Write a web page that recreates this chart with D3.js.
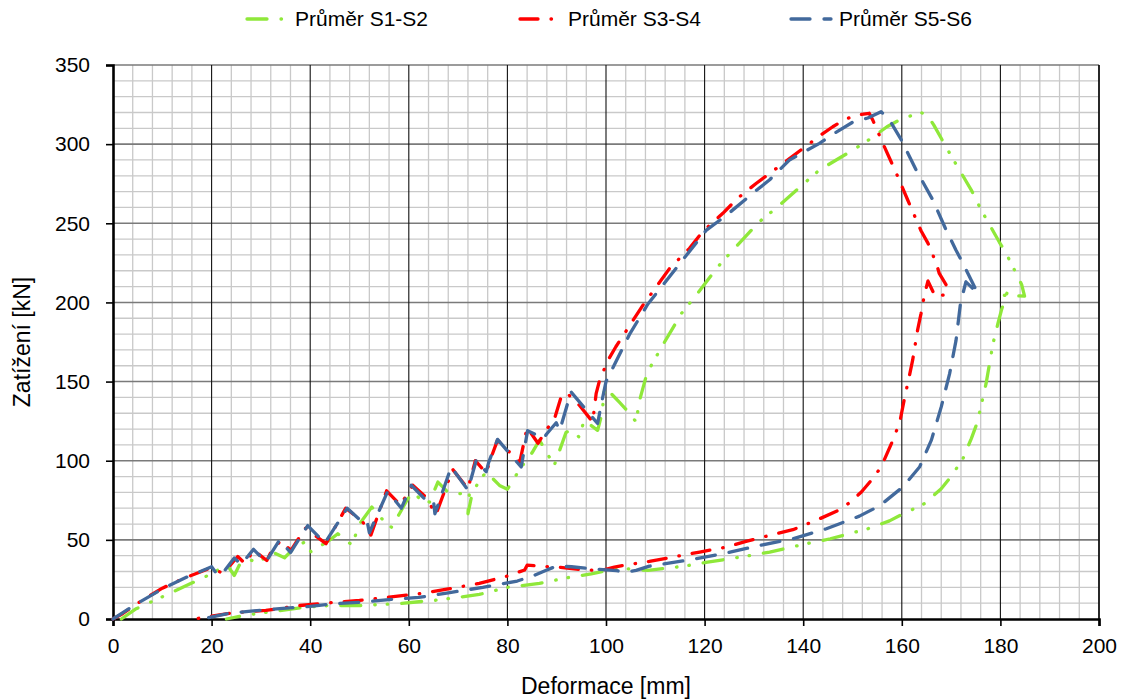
<!DOCTYPE html>
<html>
<head>
<meta charset="utf-8">
<script src="https://cdn.jsdelivr.net/npm/d3@7"></script>
<style>
body { margin: 0; background: #fff; }
text { font-family: "Liberation Sans", Arial, sans-serif; fill: #000; }
</style>
</head>
<body>
<div id="chart"></div>
<script>
// tick values
var xTicks = d3.range(0, 201, 20);
var yTicks = d3.range(0, 351, 50);
var xMinor = d3.range(0, 201, 4);
var yMinor = d3.range(0, 351, 10);

var seriesNames = ["Průměr S1-S2", "Průměr S3-S4", "Průměr S5-S6"];

// [deformace mm, zatížení kN]
var s1s2 = [[1.7,0],[4.7,6.5],[12.1,17],[18.6,26.5],[21,30.5],[23.3,33.5],[24.6,27.5],[25.7,34.5],[27.7,37.5],
  [29,36],[30.5,38],[32.5,42],[34.8,38.7],[36.5,44],[38.8,48.6],[40.2,42.3],[42,46],[44,50],[45.6,53.9],
  [47.6,48.6],[48.5,47],[50,60],[52.5,70.7],[55.4,60.2],[56.5,58],[58.1,66.5],[59.8,76],[61,80],[62.5,75],
  [64.2,73.9],[65.9,86.5],[67.9,80.2],[70,79],[72.3,80.2],[72,66.5],[72.7,77],[74,86],[75.7,92.9],[78.4,84.4],
  [80,82],[82,92],[83.8,100.3],[85,105],[86.5,113],[88.5,102.3],[89.5,97],[91.9,118],[93.3,119.2],[94.5,115],
  [95.6,125.5],[98.3,119.2],[99.2,130],[99.7,146],[100.4,144.5],[102.7,137],[104.5,131],[106.1,124.5],
  [106.8,138],[108.2,154],[109.2,160.3],[111.5,173],[115.3,193],[118.3,204.6],[122.7,222.5],[125.7,233],
  [131.1,251],[134.5,259.5],[139,272],[143.3,283.7],[150.1,296.3],[153.8,303.7],[157,311],[160.2,316.4],
  [163.6,319.5],[163.9,320],[165.3,317.8],[166.5,312],[168,303.7],[170.3,291],[172.2,281],[174.1,271],
  [176.1,258.4],[178,248],[179.8,238],[180.8,233],[182.2,224.7],[183.2,218.3],[184.3,211.4],[184.9,204],
  [182.5,204.3],[180.8,204.5],[181.6,208.5],[180.2,195],[179.5,186.7],[178.5,174],[177.1,148.8],[175.8,130.8],
  [175.1,122.4],[174.1,114],[172.4,101.3],[170,90],[168,82.3],[164.6,72.9],[160,66],[157.5,62],[153.1,57],
  [145.5,50.7],[140.7,47.6],[133.2,42.3],[128.4,39.7],[120.6,35.9],[115.9,33.4],[108.5,30.7],[103.8,31.8],
  [100,30.5],[97,28.5],[92,26],[86.5,22.5],[80,20],[74.3,15.5],[66,12],[58.1,9.8],[50,8.5],[43.9,8.5],
  [39.2,7.5],[33,5],[27,2.5],[23,0]];

var s3s4 = [[0,0],[2,3.5],[5,10],[10,19.5],[15,26.5],[19.6,32],[21.9,29.5],[23,31],[25.3,39.5],[26.8,35],
  [28.5,43.5],[31.2,37],[32,42],[34,49.5],[36.1,43.3],[39,57.5],[43.2,47.6],[47.2,70],[50.5,62],[52,55],
  [52.3,53],[55.5,81],[58.3,72],[60.8,84.5],[63.8,76],[65.2,67],[65.5,66],[68.9,94.5],[72,82.3],[73.5,100],
  [75.7,92.3],[76.4,99.5],[78,113],[82.5,99],[84,121],[86.2,111],[88,120],[89.5,126],[90.9,140.3],[92,143],
  [94.6,135],[97.3,124.5],[98,142.4],[98.7,150.8],[100.4,163.5],[102,172],[107.5,198.3],[112.9,221.5],
  [116.9,234],[119.6,244.7],[123.7,256.3],[126.7,265.8],[130.5,275.3],[136,288],[143.6,305.8],[146,311],
  [148.7,316],[151.3,318.5],[153.4,319.5],[154.1,315.3],[156.3,299.5],[159.2,279.4],[161.2,264.7],
  [163.9,245.3],[165.3,237.5],[167,224.7],[167.6,218.3],[169,211],[169,205],[166.8,203.7],[165.3,213.5],
  [164.6,205],[163.9,193],[163.2,182.5],[162.2,163.5],[161.5,153],[160.6,140.3],[159.6,124.5],[158.2,113],
  [155.8,96],[153.8,87.6],[151.8,80.2],[149.4,73.5],[147.4,69],[142.9,62.7],[140.6,59.8],[137.9,56.4],
  [133.8,53.3],[128.4,49],[124.4,45.4],[119,42.3],[114.2,39.5],[108.8,36.4],[104.4,34.3],[101.7,32.8],
  [98.7,30.5],[94,31.5],[90.6,32.6],[87,33.3],[84,34],[83.5,31],[80.4,27.5],[74.3,22.5],[68,19],[62.2,16],
  [56,13.8],[50,11.7],[43,10],[37.8,8.5],[31,5.4],[24.3,3.9],[19.6,1.6],[16.5,0]];

var s5s6 = [[0,0],[2,4],[5,10],[10,19],[15,26.5],[20,33],[21.3,27.5],[22.5,30],[24.6,38.5],[26,34.5],
  [28.5,44],[31,36],[33.8,50],[36,42],[39.5,59],[43,48],[47.5,70],[50.3,62],[51.5,62.5],[52,54.5],
  [55.7,80.5],[58.5,70],[60.5,84.5],[63.5,75],[65,75],[65.3,66.5],[68.6,96],[72,81.5],[73.7,100.5],
  [75.7,93],[76.2,99],[78,113.5],[82.8,96],[84.1,119],[87.3,114],[88,117],[89.9,124],[90.6,119],
  [92.9,143.5],[98.3,123.5],[99,135],[100,150],[104.8,180],[108.5,199],[114.2,221.5],[120.3,245.5],
  [124.4,255],[129.8,269],[133.2,277.5],[137.2,290],[143.3,300.5],[146.4,307],[150.1,314],[153.1,316.5],
  [155.8,320.5],[157.5,315.3],[159.9,302.7],[162.9,283.7],[166.3,264.7],[169,245.7],[171,233],
  [172.4,224.7],[175.4,205.7],[173,213],[171.9,199.4],[171,176],[169.7,155],[168,134],[166,113],
  [163.6,96],[160.2,83.4],[155.5,71.5],[151.4,65],[144.7,57],[137.9,50.7],[130.5,46],[123.7,41.2],
  [116.3,37],[108.8,33.4],[106.1,30.7],[104.1,29.6],[102.1,30.5],[98.7,31.3],[93,33],[90,33.5],[88,31],
  [85,27],[82,24],[75,20],[68,16.5],[62,13.6],[56.8,12.5],[50,10.5],[44.6,9.6],[40,8],[33.8,6.5],
  [28,5],[23,3.3],[18.2,0]];

var seriesColors = ["#8fe83a", "#ff0000", "#42699c"];
var seriesDash = ["20,14,0.5,12,0.5,14", "18,13,0.5,13", "19,14"];

var W = 1124, H = 699;
var margin = {top: 65, right: 25, bottom: 80, left: 113};
var width = W - margin.left - margin.right,
    height = H - margin.top - margin.bottom;

var svg = d3.select("#chart").append("svg")
  .attr("width", W)
  .attr("height", H);

var g = svg.append("g")
  .attr("transform", "translate(" + margin.left + "," + margin.top + ")");

var xScale = d3.scaleLinear().domain([0, 200]).range([0, width]);
var yScale = d3.scaleLinear().domain([0, 350]).range([height, 0]);

// minor grid
g.append("g").selectAll("line")
  .data(xMinor.filter(function(d){ return d % 20 !== 0; }))
  .enter().append("line")
  .attr("x1", function(d){ return xScale(d); }).attr("x2", function(d){ return xScale(d); })
  .attr("y1", 0).attr("y2", height)
  .attr("stroke", "#c9c9c9").attr("stroke-width", 1.3);

g.append("g").selectAll("line")
  .data(yMinor.filter(function(d){ return d % 50 !== 0; }))
  .enter().append("line")
  .attr("x1", 0).attr("x2", width)
  .attr("y1", function(d){ return yScale(d); }).attr("y2", function(d){ return yScale(d); })
  .attr("stroke", "#c9c9c9").attr("stroke-width", 1.3);

// major grid
g.append("g").selectAll("line")
  .data(yTicks.slice(1))
  .enter().append("line")
  .attr("x1", 0).attr("x2", width)
  .attr("y1", function(d){ return yScale(d); }).attr("y2", function(d){ return yScale(d); })
  .attr("stroke", "#7a7a7a").attr("stroke-width", 1.6);

g.append("g").selectAll("line")
  .data(xTicks.slice(1))
  .enter().append("line")
  .attr("x1", function(d){ return xScale(d); }).attr("x2", function(d){ return xScale(d); })
  .attr("y1", 0).attr("y2", height)
  .attr("stroke", "#111").attr("stroke-width", function(d){ return d === 200 ? 1.8 : 1.1; });

// axes
var yAxis = g.append("g")
  .call(d3.axisLeft(yScale).tickValues(yTicks).tickSize(7).tickPadding(16));
var xAxis = g.append("g")
  .attr("transform", "translate(0," + height + ")")
  .call(d3.axisBottom(xScale).tickValues(xTicks).tickSize(7).tickPadding(12));

yAxis.select(".domain").attr("stroke", "#000").attr("stroke-width", 2.6);
xAxis.select(".domain").attr("stroke", "#000").attr("stroke-width", 2.6);
svg.selectAll(".tick line").attr("stroke", "#000").attr("stroke-width", 1.6);
svg.selectAll(".tick text")
  .style("font-family", "'Liberation Sans', Arial, sans-serif")
  .style("font-size", "21px")
  .attr("fill", "#000");

// series
var line = d3.line()
  .x(function(d){ return xScale(d[0]); })
  .y(function(d){ return yScale(d[1]); });

var allSeries = [s1s2, s3s4, s5s6];
g.selectAll(".series")
  .data(allSeries)
  .enter().append("path")
  .attr("class", "series")
  .attr("d", line)
  .attr("fill", "none")
  .attr("stroke", function(d, i){ return seriesColors[i]; })
  .attr("stroke-width", 3.3)
  .attr("stroke-linecap", "round")
  .attr("stroke-linejoin", "round")
  .attr("stroke-dasharray", function(d, i){ return seriesDash[i]; });

// axis titles
svg.append("text")
  .attr("x", margin.left + width / 2)
  .attr("y", 694)
  .attr("text-anchor", "middle")
  .style("font-size", "23px")
  .text("Deformace [mm]");

svg.append("text")
  .attr("transform", "translate(30," + (margin.top + height / 2) + ") rotate(-90)")
  .attr("text-anchor", "middle")
  .style("font-size", "23px")
  .text("Zatížení [kN]");

// legend
var legendX = [247, 520, 791];
var legend = svg.append("g");
seriesNames.forEach(function(name, i) {
  legend.append("line")
    .attr("x1", legendX[i]).attr("x2", legendX[i] + 40)
    .attr("y1", 19).attr("y2", 19)
    .attr("stroke", seriesColors[i])
    .attr("stroke-width", 3.3)
    .attr("stroke-linecap", "round")
    .attr("stroke-dasharray", seriesDash[i]);
  legend.append("text")
    .attr("x", legendX[i] + 48)
    .attr("y", 26)
    .style("font-size", "21px")
    .text(name);
});
</script>
</body>
</html>
